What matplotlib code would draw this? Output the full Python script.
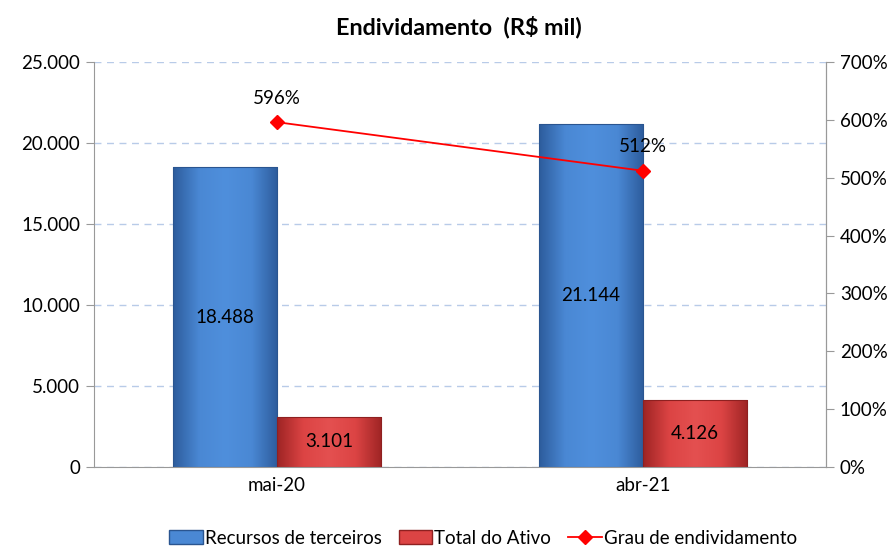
import matplotlib
matplotlib.use("Agg")
import matplotlib.pyplot as plt
import numpy as np
from matplotlib.colors import LinearSegmentedColormap
from matplotlib.ticker import FuncFormatter, MultipleLocator
from matplotlib.lines import Line2D
from matplotlib.patches import Patch

categories = ["mai-20", "abr-21"]
recursos = [18488, 21144]
ativo = [3101, 4126]
grau = [5.96, 5.12]
grau_labels = ["596%", "512%"]
recursos_labels = ["18.488", "21.144"]
ativo_labels = ["3.101", "4.126"]

plt.rcParams['font.family'] = ['Lato', 'DejaVu Sans']
FS = 13.5

fig = plt.figure(figsize=(8.92, 5.46), dpi=100)
ax = fig.add_axes([94/892, 79/546, 732/892, 405/546])
ax2 = ax.twinx()

x = np.arange(len(categories))
w = 0.285

blue_cmap = LinearSegmentedColormap.from_list("b", ["#2d5c9c", "#4a88d4", "#4f8fdc", "#4a88d4", "#2d5c9c"])
red_cmap = LinearSegmentedColormap.from_list("r", ["#9e2424", "#dc4444", "#e45050", "#dc4444", "#9e2424"])

grad = np.linspace(0, 1, 256).reshape(1, -1)

def draw_bars(xs, vals, cmap, edge):
    bars = ax.bar(xs, vals, w, color="none", edgecolor=edge, linewidth=0.8, zorder=3)
    for b in bars:
        x0, y0 = b.get_x(), b.get_y()
        bw, bh = b.get_width(), b.get_height()
        im = ax.imshow(grad, cmap=cmap, aspect="auto", extent=[x0, x0 + bw, y0, y0 + bh], zorder=2.5,
                       interpolation="bicubic")
        im.set_clip_path(b)
    return bars

b1 = draw_bars(x - w/2, recursos, blue_cmap, "#2a5590")
b2 = draw_bars(x + w/2, ativo, red_cmap, "#8e2020")

for xi, v, lab in zip(x - w/2, recursos, recursos_labels):
    ax.text(xi, v/2, lab, ha="center", va="center", fontsize=FS, color="black", zorder=5)
for xi, v, lab in zip(x + w/2, ativo, ativo_labels):
    ax.text(xi, v/2, lab, ha="center", va="center", fontsize=FS, color="black", zorder=5)

ax.set_xlim(-0.5, 1.5)
ax.set_ylim(0, 25000)
ax.yaxis.set_major_locator(MultipleLocator(5000))
ax.yaxis.set_major_formatter(FuncFormatter(lambda v, p: f"{int(v):,}".replace(",", ".")))
ax.set_xticks(x)
ax.set_xticklabels(categories)
ax.tick_params(axis="x", length=0, labelsize=FS, pad=7)
ax.tick_params(axis="y", labelsize=FS, length=6, color="#999999", direction="out", pad=4)
ax.grid(axis="y", color="#b8cbe8", linestyle=(0, (5, 4)), linewidth=1, zorder=0)
ax.set_axisbelow(True)
ax.spines["top"].set_visible(False)
for s in ["left", "bottom", "right"]:
    ax.spines[s].set_color("#999999")
ax.set_facecolor("none")

ax2.set_ylim(0, 7)
ax2.yaxis.set_major_locator(MultipleLocator(1))
ax2.yaxis.set_major_formatter(FuncFormatter(lambda v, p: f"{int(round(v*100))}%"))
ax2.tick_params(axis="y", labelsize=FS, length=6, color="#999999", direction="out", pad=4)
ax2.spines["top"].set_visible(False)
ax2.spines["right"].set_color("#999999")
ax2.spines["left"].set_visible(False)
ax2.spines["bottom"].set_visible(False)

ax2.plot(x, grau, color="#ff0000", linewidth=1.3, marker="D", markersize=7, zorder=6)
for xi, g, lab in zip(x, grau, grau_labels):
    ax2.annotate(lab, (xi, g), xytext=(0, 11), textcoords="offset points", ha="center", va="bottom",
                 fontsize=FS, color="black")

fig.text(459/892, 1 - 27/546, "Endividamento  (R$ mil)", ha="center", va="center", fontsize=16.8, fontweight="bold")

handles = [Patch(facecolor="#4a88d4", edgecolor="#2a5590"),
           Patch(facecolor="#dc4444", edgecolor="#8e2020"),
           Line2D([0], [0], color="#ff0000", marker="D", markersize=7, linewidth=1.3)]
labels = ["Recursos de terceiros", "Total do Ativo", "Grau de endividamento"]
fig.legend(handles, labels, loc="center", bbox_to_anchor=(483/892, 1 - 538/546), ncol=3, frameon=False,
           fontsize=FS, handlelength=1.8, handletextpad=0.1, columnspacing=0.9)

fig.savefig("out.png", dpi=100)
